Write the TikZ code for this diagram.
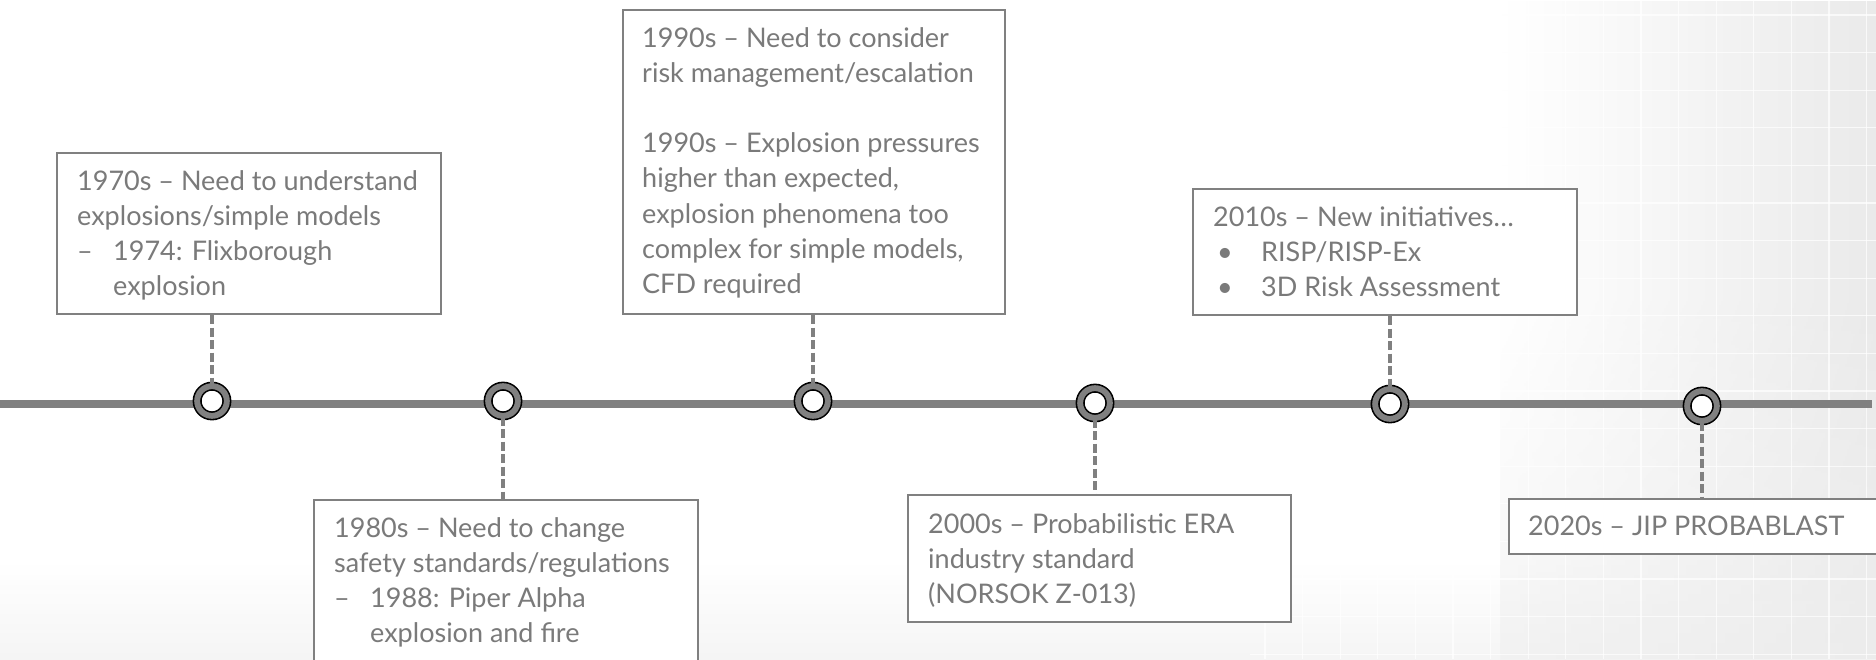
\documentclass[tikz,border=0pt]{standalone}
\usepackage{fontspec}
\setmainfont{Lato}
\usetikzlibrary{fadings}
\definecolor{tlgray}{RGB}{128,128,128}
\definecolor{txtgray}{RGB}{122,122,122}
\tikzset{
  eventbox/.style={draw=tlgray, line width=2.2pt, fill=white, inner sep=0pt, anchor=north west},
  eventtext/.style={text=txtgray, inner sep=0pt, anchor=base west, font=\fontsize{27}{35.2}\selectfont},
  milestone/.style={circle, inner sep=0pt, minimum size=29.7pt, draw=black, line width=1.6pt,
                    double=tlgray, double distance=5.9pt, fill=white},
  leader/.style={draw=tlgray, line width=4pt, dash pattern=on 9pt off 3.5pt},
  axisline/.style={draw=tlgray, line width=7.5pt}
}
\newcommand{\tlsubentry}[1]{\makebox[36pt][l]{–}#1}
\newcommand{\tlsubcont}[1]{\hspace*{36pt}#1}
\newcommand{\tlbullet}[1]{\makebox[48pt][l]{\hspace*{4pt}•}#1}
\begin{document}
\begin{tikzpicture}[x=1pt,y=-1pt]
\useasboundingbox (0,0) rectangle (1876,659);

% soft slide background with a faint grid on the right and bottom
\fill[top color=white, bottom color=black!4] (0,560) rectangle (1876,659);
\fill[black!11, path fading=west] (1500,0) rectangle (2000,659);
\fill[black!6, path fading=north] (1500,300) rectangle (1876,900);
\foreach \gx in {0,...,17} {
  \draw[white, line width=1.1pt, opacity=0.7] ({1265+37.6*\gx},0) -- ({1265+37.6*\gx},659);
}
\foreach \gy in {0,...,17} {
  \draw[white, line width=1.1pt, opacity=0.7] (1250,{15+37.6*\gy}) -- (1876,{15+37.6*\gy});
}

% time axis
\coordinate (tl-start) at (0,404);
\coordinate (tl-end) at (1872,404);
\draw[axisline] (tl-start) -- (tl-end);

% event boxes
\node[eventbox, minimum width=384pt, minimum height=161pt] (b1) at (56,152) {};
\node[eventbox, minimum width=384pt, minimum height=185pt] (b2) at (313,499) {};
\node[eventbox, minimum width=382pt, minimum height=304pt] (b3) at (622,9) {};
\node[eventbox, minimum width=383pt, minimum height=127pt] (b4) at (907,494) {};
\node[eventbox, minimum width=384pt, minimum height=126pt] (b5) at (1192,188) {};
\node[eventbox, minimum width=400pt, minimum height=55pt] (b6) at (1508,498) {};

% milestones
\node[milestone] (m1) at (212,401) {};
\node[milestone] (m2) at (503,401) {};
\node[milestone] (m3) at (813,401) {};
\node[milestone] (m4) at (1095,403) {};
\node[milestone] (m5) at (1390,404) {};
\node[milestone] (m6) at (1702,406) {};

% leaders from boxes to milestones
\draw[leader] (b1.south -| m1) -- (m1.north);
\draw[leader] (m2.south) -- (b2.north -| m2);
\draw[leader] (b3.south -| m3) -- (m3.north);
\draw[leader] (m4.south) -- (b4.north -| m4);
\draw[leader] (b5.south -| m5) -- (m5.north);
\draw[leader] (m6.south) -- (b6.north -| m6);

% texts
\node[eventtext] (t1) at (77,190) {\parbox[t]{360pt}{1970s – Need to understand\\
  explosions/simple models\\
  \tlsubentry{1974: Flixborough}\\
  \tlsubcont{explosion}}};
\node[eventtext] (t2) at (334,537) {\parbox[t]{360pt}{1980s – Need to change\\
  safety standards/regulations\\
  \tlsubentry{1988: Piper Alpha}\\
  \tlsubcont{explosion and fire}}};
\node[eventtext] (t3) at (642,47) {\parbox[t]{360pt}{1990s – Need to consider\\
  risk management/escalation\\[35.2pt]
  1990s – Explosion pressures\\
  higher than expected,\\
  explosion phenomena too\\
  complex for simple models,\\
  CFD required}};
\node[eventtext] (t4) at (928,533) {\parbox[t]{360pt}{2000s – Probabilistic ERA\\
  industry standard\\
  (NORSOK Z-013)}};
\node[eventtext] (t5) at (1213,226) {\parbox[t]{360pt}{2010s – New initiatives…\\
  \tlbullet{RISP/RISP-Ex}\\
  \tlbullet{3D Risk Assessment}}};
\node[eventtext] (t6) at (1528,535) {\parbox[t]{360pt}{2020s – JIP PROBABLAST}};
\end{tikzpicture}
\end{document}
